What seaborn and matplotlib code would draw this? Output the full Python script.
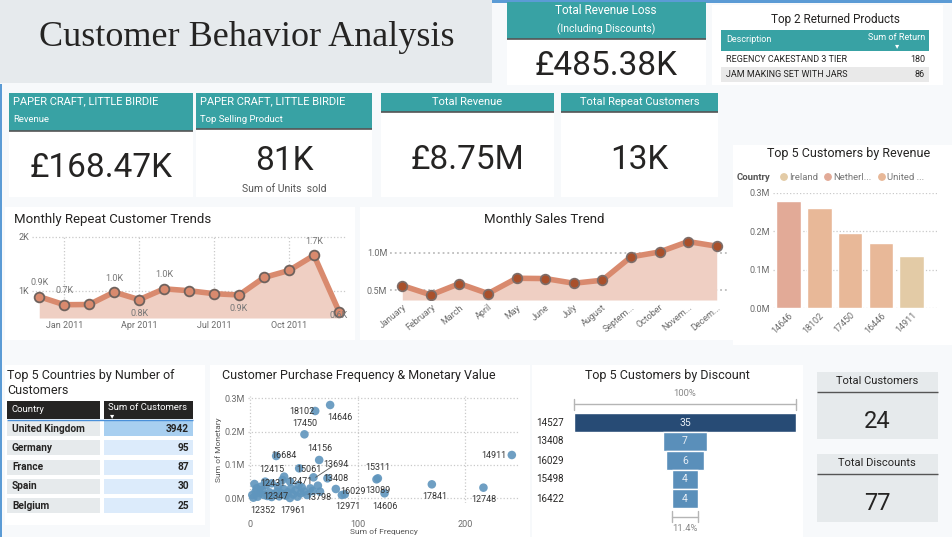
import matplotlib
matplotlib.use("Agg")
import matplotlib.pyplot as plt
import seaborn as sns
import pandas as pd
from matplotlib.patches import Rectangle, Circle

W, H = 953, 537

# ---- data ----
repeat_months = ['Dec 2010', 'Jan 2011', 'Feb 2011', 'Mar 2011', 'Apr 2011', 'May 2011', 'Jun 2011',
                 'Jul 2011', 'Aug 2011', 'Sep 2011', 'Oct 2011', 'Nov 2011', 'Dec 2011']
repeat_values = [0.895, 0.746, 0.75, 0.98, 0.84, 1.04, 1.005, 0.95, 0.926, 1.25, 1.38, 1.66, 0.62]  # K
repeat_label_pos = ['up', 'up', None, 'up', 'down', 'up', None, None, 'down', None, None, 'up', 'down']
repeat_tick_months = ['Jan 2011', 'Apr 2011', 'Jul 2011', 'Oct 2011']

sales_months = ['January', 'February', 'March', 'April', 'May', 'June', 'July', 'August',
                'Septem...', 'October', 'Novem...', 'Decem...']
sales_values = [0.563, 0.438, 0.59, 0.456, 0.661, 0.657, 0.594, 0.635, 0.947, 1.013, 1.152, 1.09]  # M

top_customers = ['14646', '18102', '17450', '16446', '14911']
top_revenue = [0.280, 0.261, 0.196, 0.170, 0.136]  # M
top_country = ['Netherlands', 'United Kingdom', 'United Kingdom', 'United Kingdom', 'Ireland']
country_colors = {'Ireland': '#e3cba6', 'Netherlands': '#e2aa97', 'United Kingdom': '#e8b898'}
legend_names = ['Ireland', 'Netherl...', 'United ...']

countries = ['United Kingdom', 'Germany', 'France', 'Spain', 'Belgium']
country_customers = [3942, 95, 87, 30, 25]

discount_customers = ['14527', '13408', '16029', '15498', '16422']
discount_values = [35, 7, 6, 4, 4]

returned_products = ['REGENCY CAKESTAND 3 TIER', 'JAM MAKING SET WITH JARS']
returned_qty = [180, 86]

# labelled customers in the RFM scatter
scatter_ids = ['14646', '18102', '17450', '14156', '16684', '14911', '15311', '13089', '17841', '12748',
               '14606', '16029', '12971', '13408', '13694', '15061', '12415', '12471', '12431', '13798',
               '12347', '12352', '17961']
scatter_freq = [74.4, 60.5, 50.5, 64.2, 24.2, 243.4, 118.8, 117.5, 169.0, 217.0,
                125.0, 79.7, 85.3, 71.9, 58.9, 45.6, 31.6, 37.2, 14.0, 63.0,
                16.0, 3.0, 37.0]
scatter_money = [0.280, 0.262, 0.192, 0.115, 0.127, 0.130, 0.060, 0.057, 0.042, 0.032,
                 0.015, 0.028, 0.010, 0.060, 0.063, 0.090, 0.065, 0.050, 0.050, 0.038,
                 0.007, 0.002, 0.001]
# label positions (data units)
label_freq = [83.7, 48.1, 50.5, 64.5, 31.6, 226.4, 118.8, 118.5, 171.5, 217.0,
              125.6, 95.5, 90.5, 80.0, 80.0, 54.3, 20.2, 45.9, 20.8, 64.2,
              23.9, 11.4, 39.7]
label_money = [0.243, 0.260, 0.223, 0.150, 0.128, 0.129, 0.093, 0.023, 0.005, -0.005,
               -0.025, 0.020, -0.025, 0.060, 0.102, 0.088, 0.088, 0.050, 0.043, 0.003,
               0.005, -0.037, -0.037]
# unlabelled customers in the dense corner
other_freq = [2, 5, 7, 9, 11, 13, 18, 20, 22, 25, 27, 29, 31, 33, 35, 40, 42, 44, 47, 50,
              53, 56, 58, 6, 10, 26, 48, 65, 88, 4, 20, 38, 30, 15, 45]
other_money = [0.010, 0.020, 0.005, 0.015, 0.025, 0.010, 0.018, 0.004, 0.012, 0.020, 0.006, 0.015,
               0.028, 0.008, 0.018, 0.012, 0.024, 0.005, 0.015, 0.020, 0.010, 0.030, 0.022, 0.030,
               0.035, 0.035, 0.033, 0.020, 0.012, 0.043, 0.045, 0.030, 0.055, 0.040, 0.040]

sns.set_style('white')
plt.rcParams['font.family'] = ['Roboto', 'DejaVu Sans']

TEAL = '#38a2a4'
INK = '#252423'
GREY = '#6b6b6b'

fig = plt.figure(figsize=(W / 100, H / 100), dpi=100, facecolor='#f7f9fb')
bg = fig.add_axes([0, 0, 1, 1])
bg.set_xlim(0, W)
bg.set_ylim(H, 0)
bg.axis('off')


def rect(x, y, w, h, color, **kw):
    bg.add_patch(Rectangle((x, y), w, h, facecolor=color, edgecolor='none', **kw))


def txt(x, y, s, **kw):
    kw.setdefault('va', 'center')
    kw.setdefault('color', INK)
    bg.text(x, y, s, **kw)


def hline(x0, x1, y, color='#555555', lw=1.2):
    bg.plot([x0, x1], [y, y], color=color, lw=lw, solid_capstyle='butt')


def add_ax(x, y, w, h):
    a = fig.add_axes([x / W, 1 - (y + h) / H, w / W, h / H])
    a.set_facecolor('none')
    for s in a.spines.values():
        s.set_visible(False)
    a.tick_params(length=0, labelsize=6.5, colors=GREY, pad=2)
    return a


# ---- frame / panels ----
rect(0, 0, 492, 83, '#e6eaed')
txt(247, 38, 'Customer Behavior Analysis', family='Liberation Serif', fontsize=26, ha='center')
rect(0, 84, 2.5, 453, '#5b9bd5')
rect(492, 0, 461, 2.5, '#5b9bd5')
for (x, y, w, h) in [(5, 207, 350, 133), (360, 207, 373, 133), (733, 145, 220, 200),
                     (5, 365, 200, 160), (210, 365, 320, 172), (532, 365, 271, 172)]:
    rect(x, y, w, h, 'white')

# ---- Total revenue loss card ----
rect(507, 2, 199, 83, 'white')
rect(507, 2, 199, 37, TEAL)
hline(507, 706, 39)
txt(606, 11, 'Total Revenue Loss', color='white', fontsize=8.5, ha='center')
txt(606, 29, '(Including Discounts)', color='white', fontsize=7.5, ha='center')
txt(606, 66, '£485.38K', fontsize=24, ha='center')

# ---- Top 2 returned products ----
rect(712, 5, 231, 80, 'white')
txt(835, 20, 'Top 2 Returned Products', fontsize=8.5, ha='center')
rect(721, 30, 208, 21, TEAL)
txt(726, 39, 'Description', color='white', fontsize=6.5)
txt(925, 38, 'Sum of Return', color='white', fontsize=6.5, ha='right')
txt(897, 46, '▾', color='white', fontsize=6, ha='center', family=['DejaVu Sans'])
for i, (p, q) in enumerate(zip(returned_products, returned_qty)):
    y0 = 52 + i * 15
    if i % 2 == 1:
        rect(721, y0, 208, 15, '#e9e9e9')
    txt(726, y0 + 7.5, p, fontsize=6.5)
    txt(925, y0 + 7.5, str(q), fontsize=6.5, ha='right')

# ---- KPI cards ----
cards = [
    (9, 184, 38, ['PAPER CRAFT, LITTLE BIRDIE', 'Revenue'], '£168.47K', 168, None),
    (196, 176, 36, ['PAPER CRAFT, LITTLE BIRDIE', 'Top Selling Product'], '81K', 161, 'Sum of Units  sold'),
    (381, 173, 19, ['Total Revenue'], '£8.75M', 160, None),
    (561, 157, 19, ['Total Repeat Customers'], '13K', 160, None),
]
for x, w, hh, head, value, vy, sub in cards:
    rect(x, 93, w, 104, 'white')
    rect(x, 93, w, hh, TEAL)
    hline(x, x + w, 93 + hh)
    if len(head) == 2:
        txt(x + 4, 101, head[0], color='white', fontsize=8)
        txt(x + 4, 120, head[1], color='white', fontsize=6.8)
    else:
        txt(x + w / 2, 102, head[0], color='white', fontsize=8, ha='center')
    txt(x + w / 2, vy, value, fontsize=24, ha='center')
    if sub:
        txt(x + w / 2, 189, sub, color='#555555', fontsize=7.5, ha='center')

# ---- Monthly repeat customer trends ----
txt(14, 220, 'Monthly Repeat Customer Trends', fontsize=9.5)
ax1 = add_ax(32, 236, 315, 82)
rep = pd.DataFrame({'month': repeat_months, 'val': repeat_values})
rep['idx'] = range(len(rep))
ax1.fill_between(rep['idx'], rep['val'], 0.5, color='#efcfc3', lw=0)
sns.lineplot(data=rep, x='idx', y='val', ax=ax1, color='#d98a6e', lw=4, marker='o', markersize=7,
             markerfacecolor='#d98a6e', markeredgecolor='#6f625d', markeredgewidth=1.3)
ax1.set_xlim(-0.29, 12.32)
ax1.set_ylim(0.5, 2.018)
ax1.set_yticks([1, 2], ['1K', '2K'])
ax1.set_xticks([repeat_months.index(m) for m in repeat_tick_months], repeat_tick_months)
ax1.grid(True, ls=':', color='#c9c9c9', lw=0.9)
ax1.set_xlabel('')
ax1.set_ylabel('')
for i, (v, pos) in enumerate(zip(repeat_values, repeat_label_pos)):
    if pos is None:
        continue
    dy = 10 if pos == 'up' else -10
    if i == len(repeat_values) - 1:
        dy = -3
    ax1.annotate(f'{v:.1f}K', (i, v), xytext=(0, dy), textcoords='offset points',
                 ha='center', va='center', fontsize=6.5, color='#777777', annotation_clip=False)

# ---- Monthly sales trend ----
txt(544, 219, 'Monthly Sales Trend', fontsize=9.5, ha='center')
ax2 = add_ax(390, 235, 337, 65)
sal = pd.DataFrame({'month': sales_months, 'val': sales_values})
sal['idx'] = range(len(sal))
ax2.fill_between(sal['idx'], sal['val'], 0.37, color='#efcfc3', lw=0)
sns.lineplot(data=sal, x='idx', y='val', ax=ax2, color='#d98a6e', lw=4, marker='o', markersize=7,
             markerfacecolor='#a9502b', markeredgecolor='#7d6d69', markeredgewidth=1.2)
ax2.set_xlim(-0.43, 11.36)
ax2.set_ylim(0.37, 1.24)
ax2.set_yticks([0.5, 1.0], ['0.5M', '1.0M'])
ax2.set_xticks(sal['idx'], sales_months, rotation=40, ha='right', rotation_mode='anchor')
ax2.grid(axis='y', ls=':', color='#bdbdbd', lw=1.3)
ax2.set_xlabel('')
ax2.set_ylabel('')

# ---- Top 5 customers by revenue ----
txt(849, 154, 'Top 5 Customers by Revenue', fontsize=9, ha='center')
txt(737, 177, 'Country', fontsize=6.8, fontweight='bold', color='#555555')
for cx, name, key in zip([784, 828, 882], legend_names, ['Ireland', 'Netherlands', 'United Kingdom']):
    bg.add_patch(Circle((cx, 177), 3.2, color=country_colors[key]))
    txt(cx + 5, 177, name, fontsize=6.8, color='#777777')
ax3 = add_ax(773, 193, 164, 115)
rev = pd.DataFrame({'customer': top_customers, 'revenue': top_revenue, 'country': top_country})
sns.barplot(data=rev, x='customer', y='revenue', hue='country', palette=country_colors, dodge=False,
            order=top_customers, saturation=1, width=0.8, legend=False, ax=ax3)
ax3.set_xlim(-0.5, 4.82)
ax3.set_ylim(0, 0.3)
ax3.set_yticks([0, 0.1, 0.2, 0.3], ['0.0M', '0.1M', '0.2M', '0.3M'])
ax3.set_xticks(range(5), top_customers, rotation=45, ha='right', rotation_mode='anchor')
ax3.grid(axis='y', ls=':', color='#c9c9c9', lw=0.9)
ax3.set_axisbelow(True)
ax3.set_xlabel('')
ax3.set_ylabel('')

# ---- Top 5 countries table ----
txt(7, 375, 'Top 5 Countries by Number of', fontsize=9)
txt(7, 391, 'Customers', fontsize=9)
rect(7, 401, 93, 18, INK)
rect(104, 401, 89, 18, INK)
txt(12, 409, 'Country', color='white', fontsize=6.8)
txt(108, 408, 'Sum of Customers', color='white', fontsize=6.8)
txt(112, 416, '▾', color='white', fontsize=6, ha='center', family=['DejaVu Sans'])
hline(7, 193, 420, color='#4a90d9', lw=1)
for i, (c, n) in enumerate(zip(countries, country_customers)):
    y0 = 421 + i * 19.3
    rect(7, y0, 93, 15, '#e6eaec')
    rect(104, y0, 89, 15, '#a8cff0' if i == 0 else '#dcebfb')
    txt(12, y0 + 7.5, c, fontsize=7.3, fontweight='bold')
    txt(189, y0 + 7.5, str(n), fontsize=7.3, fontweight='bold', ha='right')

# ---- Frequency vs monetary scatter ----
txt(222, 375, 'Customer Purchase Frequency & Monetary Value', fontsize=9)
ax4 = add_ax(248, 396, 272, 107)
pts = pd.DataFrame({'freq': scatter_freq + other_freq, 'money': scatter_money + other_money})
sns.scatterplot(data=pts, x='freq', y='money', ax=ax4, s=38, color='#5f95bd', edgecolor='none',
                alpha=0.9, clip_on=False)
ax4.set_xlim(-2, 251)
ax4.set_ylim(-0.014, 0.307)
ax4.set_xticks([0, 100, 200])
ax4.set_yticks([0, 0.1, 0.2, 0.3], ['0.0M', '0.1M', '0.2M', '0.3M'])
ax4.tick_params(axis='x', pad=12)
ax4.grid(True, ls=':', color='#c9c9c9', lw=0.9)
ax4.set_axisbelow(True)
ax4.set_xlabel('Sum of Frequency', fontsize=6, color='#555555', labelpad=0)
ax4.set_ylabel('Sum of Monetary', fontsize=6, color='#555555', labelpad=2)
for cid, lx, ly in zip(scatter_ids, label_freq, label_money):
    ax4.text(lx, ly, cid, fontsize=6.5, color='#333333', ha='center', va='center', clip_on=False)
i = scatter_ids.index('13694')
ax4.plot([label_freq[i] - 4, scatter_freq[i] + 2], [label_money[i] - 0.007, scatter_money[i]],
         color='#555555', lw=0.6)

# ---- Funnel of discounts ----
txt(667, 375, 'Top 5 Customers by Discount', fontsize=9, ha='center')
ax5 = add_ax(574, 413, 222, 95)
fun = pd.DataFrame({'customer': discount_customers, 'discount': discount_values})
top = fun['discount'].max()
colors = ['#274b75'] + ['#5a8fba'] * (len(fun) - 1)
ax5.barh(range(len(fun)), fun['discount'], left=-fun['discount'] / 2, height=0.95, color=colors)
ax5.set_xlim(-top / 2, top / 2)
ax5.set_ylim(len(fun) - 0.5, -0.5)
ax5.set_xticks([])
ax5.set_yticks([])
for k, (c, v) in enumerate(zip(fun['customer'], fun['discount'])):
    ax5.text(0, k, str(v), color='#e8eef5', fontsize=7.5, ha='center', va='center')
    ax5.text(-top / 2 - 6, k, c, color=INK, fontsize=7, ha='left', va='center', clip_on=False)
last = fun['discount'].iloc[-1]
for y, half, lab, ly in [(-0.96, top / 2, '100%', -1.5), (4.95, last / 2, f'{last / top:.1%}', 5.6)]:
    ax5.plot([-half, half], [y, y], color='#b5b5b5', lw=1, clip_on=False)
    for sx in (-half, half):
        ax5.plot([sx, sx], [y - 0.3, y + 0.3], color='#b5b5b5', lw=1, clip_on=False)
    ax5.text(0, ly, lab, fontsize=6.8, color='#888888', ha='center', va='center', clip_on=False)

# ---- Right side cards ----
for y0, h0, title, val, vy in [(372, 67, 'Total Customers', '24', 421), (454, 68, 'Total Discounts', '77', 503)]:
    rect(817, y0, 121, h0, '#e6eaec')
    txt(877, y0 + 9, title, fontsize=8, ha='center')
    hline(817, 938, y0 + 20, color='#555555', lw=1)
    txt(877, vy, val, fontsize=17, ha='center')

fig.savefig('out.png', dpi=100, facecolor=fig.get_facecolor())
